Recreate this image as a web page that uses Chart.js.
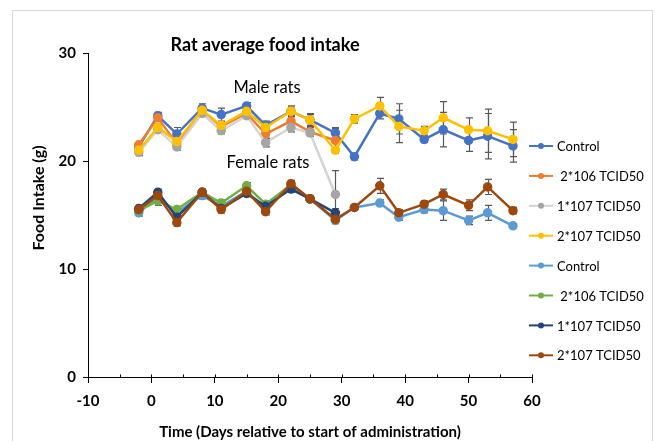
<!DOCTYPE html>
<html>
<head>
<meta charset="utf-8">
<script src="https://cdn.jsdelivr.net/npm/chart.js@4/dist/chart.umd.min.js"></script>
<style>
  html, body { margin: 0; padding: 0; background: #fff; }
  #wrap { width: 655px; height: 441px; position: relative; }
</style>
</head>
<body>
<div id="wrap"><canvas id="foodChart" width="655" height="441"></canvas></div>
<script>
// Days of measurement (relative to start of administration)
const days = [-2, 1, 4, 8, 11, 15, 18, 22, 25, 29, 32, 36, 39, 43, 46, 50, 53, 57];

// Male rats (g)
const maleControl = [21.3, 24.2, 22.5, 24.9, 24.3, 25.1, 23.3, 24.6, 23.8, 22.6, 20.4, 24.4, 23.9, 22.0, 22.9, 21.9, 22.3, 21.4];
const maleLow = [21.5, 24.0, 21.6, 24.7, 23.2, 24.4, 22.5, 23.7, 22.7, 21.9];
const maleMid = [20.8, 22.9, 21.3, 24.4, 22.8, 24.2, 21.7, 23.1, 22.6, 16.9];
const maleHigh = [21.0, 23.1, 21.8, 24.7, 23.3, 24.6, 23.1, 24.6, 23.8, 21.0, 23.9, 25.1, 23.2, 22.8, 24.0, 22.9, 22.8, 22.0];

// Female rats (g)
const femaleControl = [15.2, 16.7, 15.2, 16.8, 15.8, 17.2, 15.6, 17.6, 16.5, 14.5, 15.7, 16.1, 14.8, 15.5, 15.4, 14.5, 15.2, 14.0];
const femaleLow = [15.4, 16.3, 15.5, 17.1, 16.1, 17.7, 16.0, 17.8, 16.5, 14.6];
const femaleMid = [15.6, 17.1, 14.8, 17.1, 15.6, 17.0, 15.8, 17.4, 16.5, 15.2];
const femaleHigh = [15.5, 16.8, 14.3, 17.1, 15.5, 17.2, 15.3, 17.9, 16.5, 14.6, 15.7, 17.7, 15.2, 16.0, 16.9, 15.9, 17.6, 15.4];

// Error bars (+/- g)
const maleControlErr = [0.3, 0.3, 0.6, 0.4, 0.6, 0.3, 0.4, 0.5, 0.6, 0.5, 0.3, 0.5, 1.4, 0.3, 1.6, 1.0, 2.1, 1.5];
const maleLowErr = [0.3, 0.3, 0.3, 0.3, 0.3, 0.3, 0.4, 0.5, 0.4, 1.1];
const maleMidErr = [0.3, 0.3, 0.3, 0.3, 0.3, 0.3, 0.4, 0.4, 0.3, 2.2];
const maleHighErr = [0.3, 0.3, 0.3, 0.4, 0.3, 0.3, 0.3, 0.4, 0.5, 0.3, 0.4, 0.8, 1.5, 0.4, 1.5, 1.1, 2.0, 1.6];
const femaleControlErr = [0.3, 0.3, 0.3, 0.3, 0.3, 0.3, 0.3, 0.3, 0.3, 0.3, 0.2, 0.3, 0.3, 0.3, 0.9, 0.4, 0.7, 0.2];
const femaleLowErr = [0.3, 0.4, 0.3, 0.3, 0.3, 0.3, 0.3, 0.3, 0.3, 0.3];
const femaleMidErr = [0.3, 0.3, 0.3, 0.3, 0.3, 0.3, 0.3, 0.3, 0.3, 0.4];
const femaleHighErr = [0.3, 0.3, 0.3, 0.3, 0.3, 0.3, 0.3, 0.3, 0.3, 0.3, 0.2, 0.7, 0.3, 0.3, 0.5, 0.5, 0.7, 0.3];

const seriesLabels = ['Control', ' 2*106 TCID50', '1*107 TCID50', '2*107 TCID50',
                      'Control', ' 2*106 TCID50', '1*107 TCID50', '2*107 TCID50'];

const xTicks = [-10, 0, 10, 20, 30, 40, 50, 60];
const yTicks = [0, 10, 20, 30];

const FONT = "Lato, 'Open Sans', sans-serif";

function toPoints(values) {
    return values.map((v, i) => ({ x: days[i], y: v }));
}

function makeSeries(label, values, errors, lineColor, markerColor) {
    return {
        label: label,
        data: toPoints(values),
        errors: errors,
        borderColor: lineColor,
        backgroundColor: markerColor,
        pointBackgroundColor: markerColor,
        pointBorderColor: markerColor,
        borderWidth: 2.5,
        pointRadius: 3.5,
        showLine: true,
        tension: 0
    };
}

const datasets = [
    makeSeries(seriesLabels[0], maleControl, maleControlErr, '#4472C4', '#4472C4'),
    makeSeries(seriesLabels[1], maleLow, maleLowErr, '#ED7D31', '#ED7D31'),
    makeSeries(seriesLabels[2], maleMid, maleMidErr, '#D3D3D3', '#A5A5A5'),
    makeSeries(seriesLabels[3], maleHigh, maleHighErr, '#FFC000', '#FFC000'),
    makeSeries(seriesLabels[4], femaleControl, femaleControlErr, '#5B9BD5', '#5B9BD5'),
    makeSeries(seriesLabels[5], femaleLow, femaleLowErr, '#70AD47', '#70AD47'),
    makeSeries(seriesLabels[6], femaleMid, femaleMidErr, '#264478', '#264478'),
    makeSeries(seriesLabels[7], femaleHigh, femaleHighErr, '#9E480E', '#9E480E')
];
// later series on top, like the original spreadsheet chart
datasets.forEach((ds, i) => { ds.order = datasets.length - i; });

// error bars, drawn under the lines
const errorBars = {
    id: 'errorBars',
    beforeDatasetsDraw(chart) {
        const ctx = chart.ctx;
        const xs = chart.scales.x, ys = chart.scales.y;
        ctx.save();
        ctx.strokeStyle = '#595959';
        ctx.lineWidth = 1.2;
        chart.data.datasets.forEach(ds => {
            ds.data.forEach((p, i) => {
                const e = ds.errors[i];
                const px = Math.round(xs.getPixelForValue(p.x)) + 0.5;
                const top = ys.getPixelForValue(p.y + e);
                const bot = ys.getPixelForValue(p.y - e);
                ctx.beginPath();
                ctx.moveTo(px, top); ctx.lineTo(px, bot);
                ctx.moveTo(px - 3.5, top); ctx.lineTo(px + 3.5, top);
                ctx.moveTo(px - 3.5, bot); ctx.lineTo(px + 3.5, bot);
                ctx.stroke();
            });
        });
        ctx.restore();
    }
};

// title, axis title, group labels, legend, minor ticks and outer frame
const decorations = {
    id: 'decorations',
    afterDraw(chart) {
        const ctx = chart.ctx;
        const xs = chart.scales.x;
        const axisY = Math.round(chart.chartArea.bottom) + 0.5;
        ctx.save();

        // frame
        ctx.strokeStyle = '#D9D9D9';
        ctx.lineWidth = 1;
        ctx.strokeRect(12.5, 10.5, 640, 440);

        // small ticks above the x axis
        ctx.strokeStyle = '#000';
        for (let v = -5; v <= 60; v += 5) {
            const px = Math.round(xs.getPixelForValue(v)) + 0.5;
            ctx.beginPath();
            ctx.moveTo(px, axisY);
            ctx.lineTo(px, axisY - 3);
            ctx.stroke();
        }

        ctx.fillStyle = '#000';
        ctx.textBaseline = 'middle';
        ctx.textAlign = 'center';
        ctx.font = 'bold 18px ' + FONT;
        ctx.fillText('Rat average food intake', 265, 45);

        ctx.font = '16.5px ' + FONT;
        ctx.fillText('Male rats', 267, 88);
        ctx.fillText('Female rats', 268, 163);

        // y axis title
        ctx.save();
        ctx.translate(39, 198);
        ctx.rotate(-Math.PI / 2);
        ctx.font = 'bold 16px ' + FONT;
        ctx.fillText('Food Intake (g)', 0, 0);
        ctx.restore();

        // legend
        ctx.textAlign = 'left';
        ctx.font = '13px ' + FONT;
        chart.data.datasets.forEach((ds, i) => {
            const y = 146 + i * 29.9;
            ctx.strokeStyle = ds.borderColor;
            ctx.lineWidth = 2;
            ctx.beginPath();
            ctx.moveTo(529, y); ctx.lineTo(553, y);
            ctx.stroke();
            ctx.fillStyle = ds.pointBackgroundColor;
            ctx.beginPath();
            ctx.arc(541, y, 3, 0, Math.PI * 2);
            ctx.fill();
            ctx.fillStyle = '#000';
            ctx.fillText(ds.label, 557, y + 1);
        });
        ctx.restore();
    }
};

Chart.defaults.color = '#000';
Chart.defaults.font.family = FONT;

const ctx = document.getElementById('foodChart').getContext('2d');
const foodChart = new Chart(ctx, {
    type: 'scatter',
    data: { datasets: datasets },
    options: {
        responsive: false,
        animation: false,
        layout: { padding: { top: 53, right: 123, bottom: 0, left: 0 } },
        plugins: {
            legend: { display: false },
            tooltip: { enabled: false }
        },
        scales: {
            x: {
                type: 'linear',
                min: -10,
                max: 60,
                afterBuildTicks: s => { s.ticks = xTicks.map(v => ({ value: v })); },
                afterFit: s => { s.height = 64; },
                grid: { drawOnChartArea: false, tickLength: 6, tickColor: '#000', tickWidth: 1 },
                border: { color: '#000', width: 1 },
                ticks: { padding: 9, font: { size: 15, weight: 'bold' }, color: '#000' },
                title: {
                    display: true,
                    text: 'Time (Days relative to start of administration)',
                    font: { size: 15, weight: 'bold' },
                    padding: { top: 0, bottom: 0 }
                }
            },
            y: {
                type: 'linear',
                min: 0,
                max: 30,
                afterBuildTicks: s => { s.ticks = yTicks.map(v => ({ value: v })); },
                afterFit: s => { s.width = 88; },
                grid: { drawOnChartArea: false, tickLength: 5, tickColor: '#000', tickWidth: 1 },
                border: { color: '#000', width: 1 },
                ticks: { padding: 7, font: { size: 15, weight: 'bold' }, color: '#000' }
            }
        }
    },
    plugins: [errorBars, decorations]
});
</script>
</body>
</html>
